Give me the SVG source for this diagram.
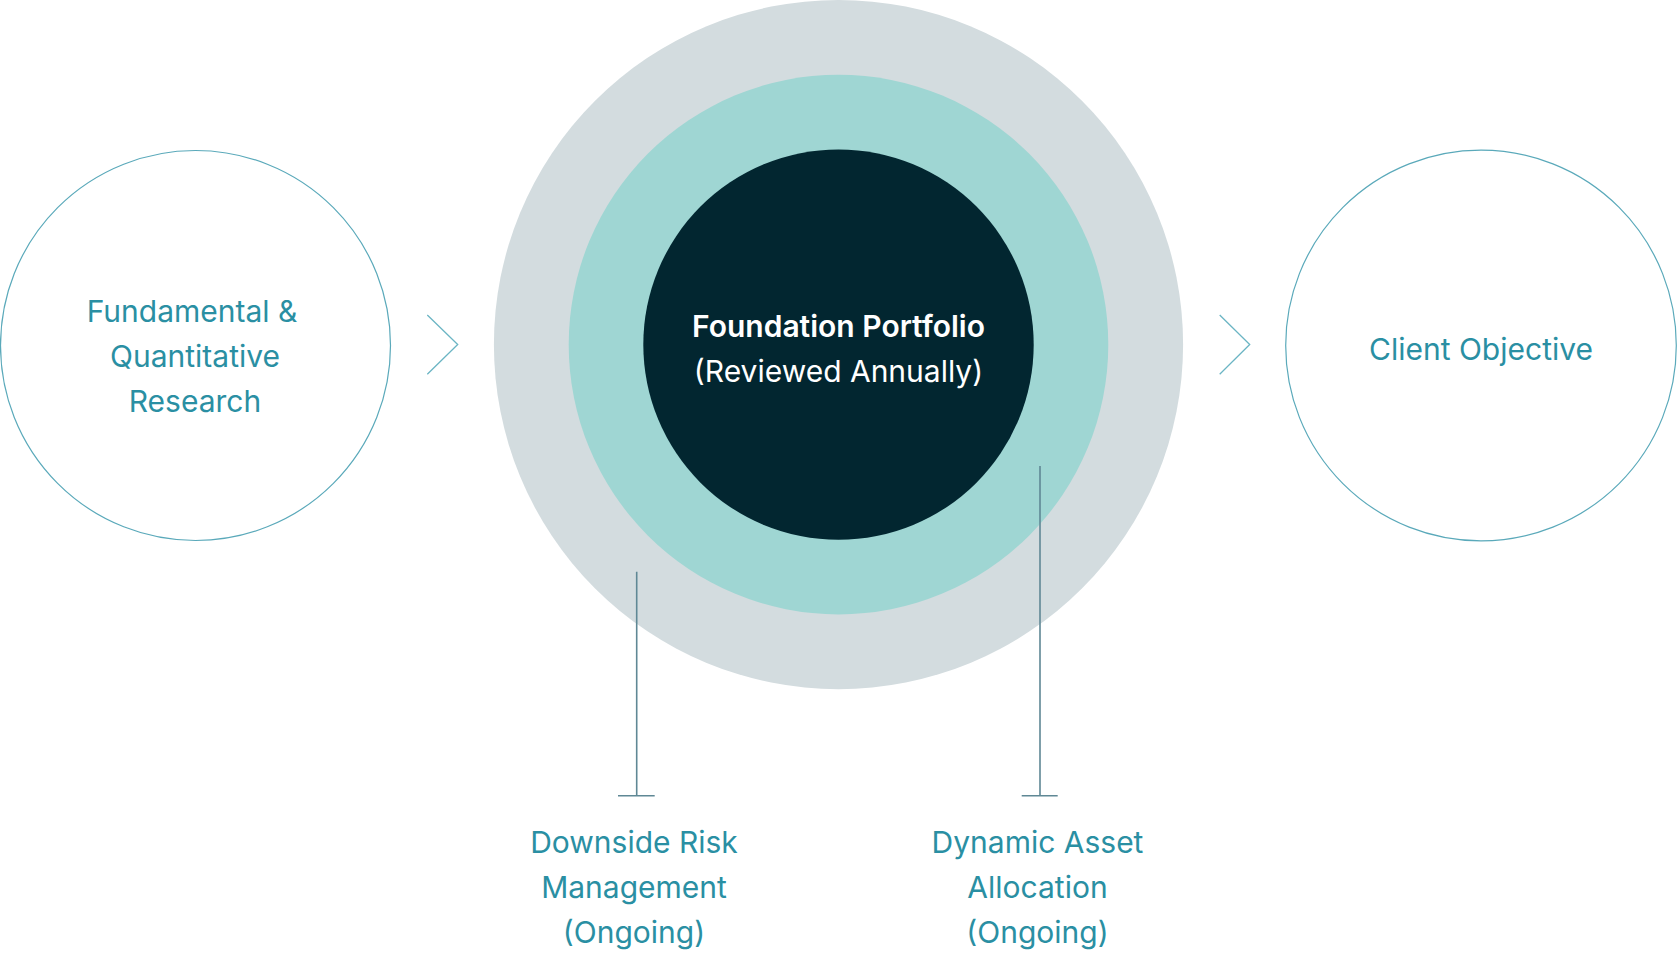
<svg xmlns="http://www.w3.org/2000/svg" width="1677" height="954" viewBox="0 0 1677 954">
<style>
.ring{fill:#fff;stroke:#5aa9ba;stroke-width:1.2}
.lbl{font-family:Inter,"Liberation Sans",sans-serif;font-size:30px;fill:#2a8fa3;text-anchor:middle}
.ctr{font-family:Inter,"Liberation Sans",sans-serif;font-size:30px;fill:#ffffff;text-anchor:middle}
.chev{fill:none;stroke:#6bb5c4;stroke-width:1.3}
.lead{fill:none;stroke:#5f8895;stroke-width:1.6}
</style>
<rect width="1677" height="954" fill="#fff"/>
<g id="research">
<circle class="ring" cx="195.5" cy="345.5" r="195"/>
<text class="lbl" x="192" y="322">Fundamental &amp;</text>
<text class="lbl" x="195" y="367">Quantitative</text>
<text class="lbl" x="195" y="412">Research</text>
</g>
<g id="portfolio">
<circle cx="838.5" cy="344.6" r="344.6" fill="#d3dcdf"/>
<circle cx="838.5" cy="344.6" r="269.8" fill="#9fd6d3"/>
<circle cx="838.5" cy="344.6" r="195.2" fill="#022630"/>
<text class="ctr" x="838.5" y="336.7" font-weight="600" font-size="30.5">Foundation Portfolio</text>
<text class="ctr" x="838.5" y="381.7">(Reviewed Annually)</text>
</g>
<g id="client">
<circle class="ring" cx="1481" cy="345.5" r="195.3"/>
<text class="lbl" x="1481" y="360">Client Objective</text>
</g>
<g id="downside">
<text class="lbl" x="634" y="853">Downside Risk</text>
<text class="lbl" x="634" y="898">Management</text>
<text class="lbl" x="634" y="943">(Ongoing)</text>
</g>
<g id="dynamic">
<text class="lbl" x="1037.5" y="853">Dynamic Asset</text>
<text class="lbl" x="1037.5" y="898">Allocation</text>
<text class="lbl" x="1037.5" y="943">(Ongoing)</text>
</g>
<g id="connectors">
<polyline class="chev" points="427.3,315 457.7,344.5 427.3,374.3"/>
<polyline class="chev" points="1219.7,315 1249.7,344.5 1219.7,374.3"/>
<path class="lead" d="M636.7,571.7V795.7M618,795.7H654.7"/>
<path class="lead" d="M1040,466V795.7M1021.7,795.7H1057.7"/>
</g>
</svg>
